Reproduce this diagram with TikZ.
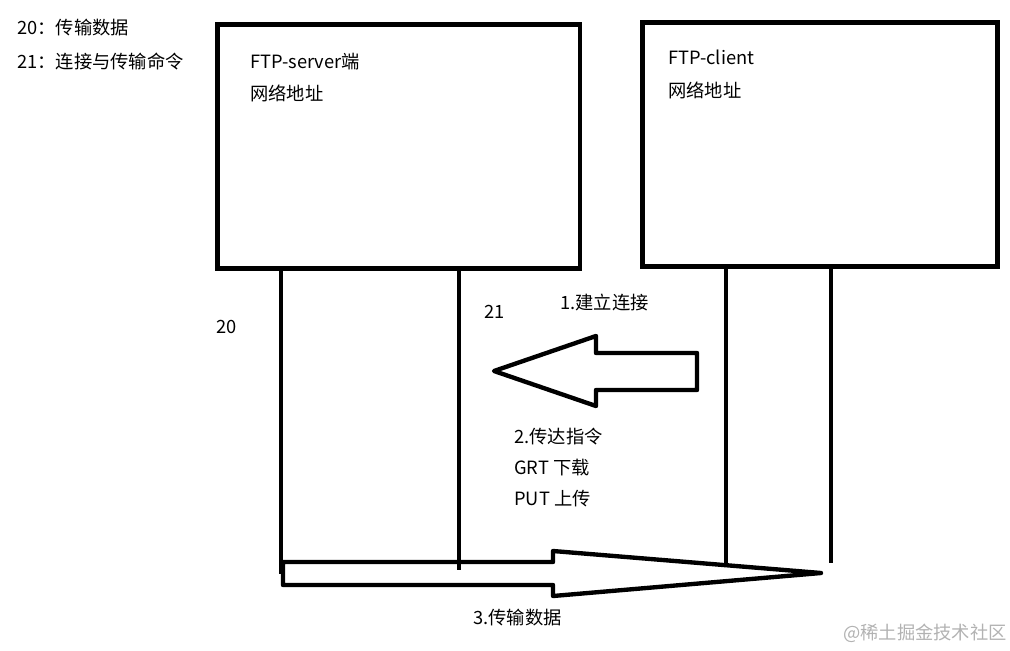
\documentclass[tikz,border=0pt]{standalone}
\usepackage{fontspec}
\setmainfont{Noto Sans CJK SC}

\begin{document}
\begin{tikzpicture}[
  x=0.025cm,
  y=-0.025cm,
  every node/.style={font=\fontsize{13}{15}\selectfont,inner sep=0pt},
  lbl/.style={anchor=west},
  host/.style={draw,line width=3.5pt,anchor=north west},
  wire/.style={line width=3.2pt},
  bigarrow/.style={draw,line width=3.1pt,line join=round},
  wmark/.style={anchor=west,text=black!30}
]
\useasboundingbox (0,0) rectangle (1010,650);

% Legend
\node[lbl] (leg20) at (17,28) {20：传输数据};
\node[lbl] (leg21) at (17,61) {21：连接与传输命令};

% Hosts
\node[host,minimum width=9.06cm,minimum height=6.1cm] (server) at (215,22) {};
\node[host,minimum width=8.875cm,minimum height=6.09cm] (client) at (640,20) {};
\node[lbl] (server-name) at (250,62) {FTP-server端};
\node[lbl] (server-addr) at (250,93) {网络地址};
\node[lbl] (client-name) at (668,57) {FTP-client};
\node[lbl] (client-addr) at (668,90) {网络地址};

% Ports
\coordinate (s20) at (281,574);
\coordinate (s21) at (459,570);
\coordinate (c1) at (726,563);
\coordinate (c2) at (831,563);
\draw[wire] (server.south -| s20) -- (s20);
\draw[wire] (server.south -| s21) -- (s21);
\draw[wire] (client.south -| c1) -- (c1);
\draw[wire] (client.south -| c2) -- (c2);
\node[lbl] (lab20) at (216,327) {20};
\node[lbl] (lab21) at (484,312) {21};

% Step 1
\node[lbl] (step1) at (560,303) {1.建立连接};
\draw[bigarrow] (697,353) -- (596,353) -- (596,336) -- (494,371)
  -- (596,406) -- (596,390) -- (697,390) -- cycle;

% Step 2
\node[lbl] (step2) at (514,437) {2.传达指令};
\node[lbl] (get) at (514,468) {GRT 下载};
\node[lbl] (put) at (514,499) {PUT 上传};

% Step 3
\draw[bigarrow] (283,562) -- (553,562) -- (553,551) -- (821,573)
  -- (553,596) -- (553,585) -- (283,585) -- cycle;
\node[lbl] (step3) at (473,618) {3.传输数据};

% Watermark
\node[wmark] (wm) at (843,633) {@稀土掘金技术社区};
\end{tikzpicture}
\end{document}
